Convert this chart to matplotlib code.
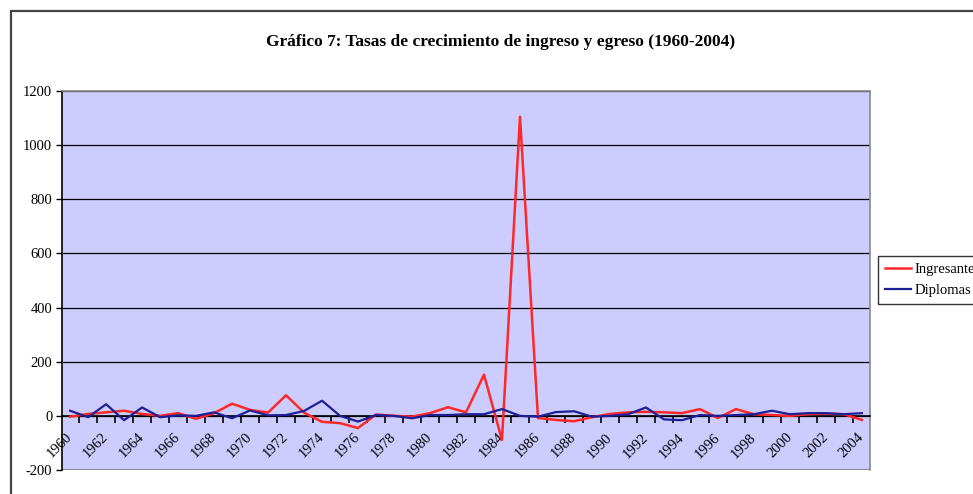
import numpy as np
import matplotlib
matplotlib.use("Agg")
import matplotlib.pyplot as plt
from matplotlib.patches import Rectangle

# datos (tasas de crecimiento, %)
anios = list(range(1960, 2005))
ingresantes = [-3, 7, 13, 19, 7, 0, 10, -11, 10, 45,
               22, 12, 76, 12, -22, -27, -45, 5, 0, -3,
               10, 32, 13, 152, -89, 1105, -8, -15, -20, -5,
               7, 13, 15, 13, 10, 25, -8, 25, 6, 3,
               0, 6, 8, 6, -15]
diplomas = [19, -5, 43, -16, 31, -5, 2, 0, 13, -9,
            20, 2, 3, 18, 56, 0, -21, 3, 0, -9,
            3, 3, 6, 6, 25, 0, -3, 14, 17, -3,
            0, 6, 31, -13, -16, 3, 0, 3, 6, 19,
            6, 10, 10, 6, 10]
yticks = list(range(-200, 1201, 200))
titulo = "Gráfico 7: Tasas de crecimiento de ingreso y egreso (1960-2004)"

plt.rcParams['font.family'] = ['Liberation Serif', 'DejaVu Serif']

fig = plt.figure(figsize=(9.73, 4.94), dpi=100)
ax = fig.add_axes([62 / 973, 1 - 470 / 494, 808 / 973, 379 / 494])
ax.set_facecolor('#CCCCFF')

x = np.arange(len(anios))
ax.plot(x, ingresantes, color='#FF2828', lw=1.8, label='Ingresantes', zorder=3)
ax.plot(x, diplomas, color='#1E1E96', lw=1.6, label='Diplomas', zorder=3)

ax.set_xlim(-0.45, len(anios) - 0.55)
ax.set_ylim(-200, 1200)
ax.set_yticks(yticks)
ax.set_yticklabels([str(v) for v in yticks], fontsize=10.5)
ax.yaxis.grid(True, color='black', lw=0.9)
ax.set_axisbelow(True)
ax.tick_params(axis='y', direction='out', length=4, width=1, pad=3)

# eje de categorías cruzando en 0
ax.spines['bottom'].set_position(('data', 0))
ax.spines['bottom'].set_color('black')
ax.spines['bottom'].set_linewidth(1.2)
ax.spines['left'].set_color('black')
ax.spines['left'].set_linewidth(1.2)
for s in ['top', 'right']:
    ax.spines[s].set_color('#888888')
    ax.spines[s].set_linewidth(1.2)
ax.axhline(-200, color='#888888', lw=1.5, zorder=2)

ax.set_xticks(np.arange(len(anios) - 1) + 0.5)
ax.set_xticklabels([])
ax.tick_params(axis='x', which='major', direction='out', length=5, width=1.2)
ax.set_xticks(x[::2], minor=True)
ax.set_xticklabels([str(a) for a in anios[::2]], minor=True, fontsize=10.5,
                   rotation=45, ha='right', va='center', rotation_mode='anchor')
ax.tick_params(axis='x', which='minor', length=0, pad=14)

fig.text(0.514, 1 - 42 / 494, titulo, ha='center', va='center',
         fontsize=12.5, fontweight='bold')

leg = fig.legend(loc='upper left', bbox_to_anchor=(878 / 973, 1 - 256 / 494),
                 fontsize=10.5, frameon=True, fancybox=False, handlelength=1.8,
                 borderpad=0.45, labelspacing=0.55, handletextpad=0.25,
                 borderaxespad=0)
leg.get_frame().set_edgecolor('black')
leg.get_frame().set_linewidth(1.0)

# marco exterior del gráfico
fig.patches.append(Rectangle((11 / 973, -0.1), 2, 1 - 11 / 494 + 0.1,
                             transform=fig.transFigure, fill=False,
                             edgecolor='#444444', lw=1.6))

fig.savefig('out.png', dpi=100)
